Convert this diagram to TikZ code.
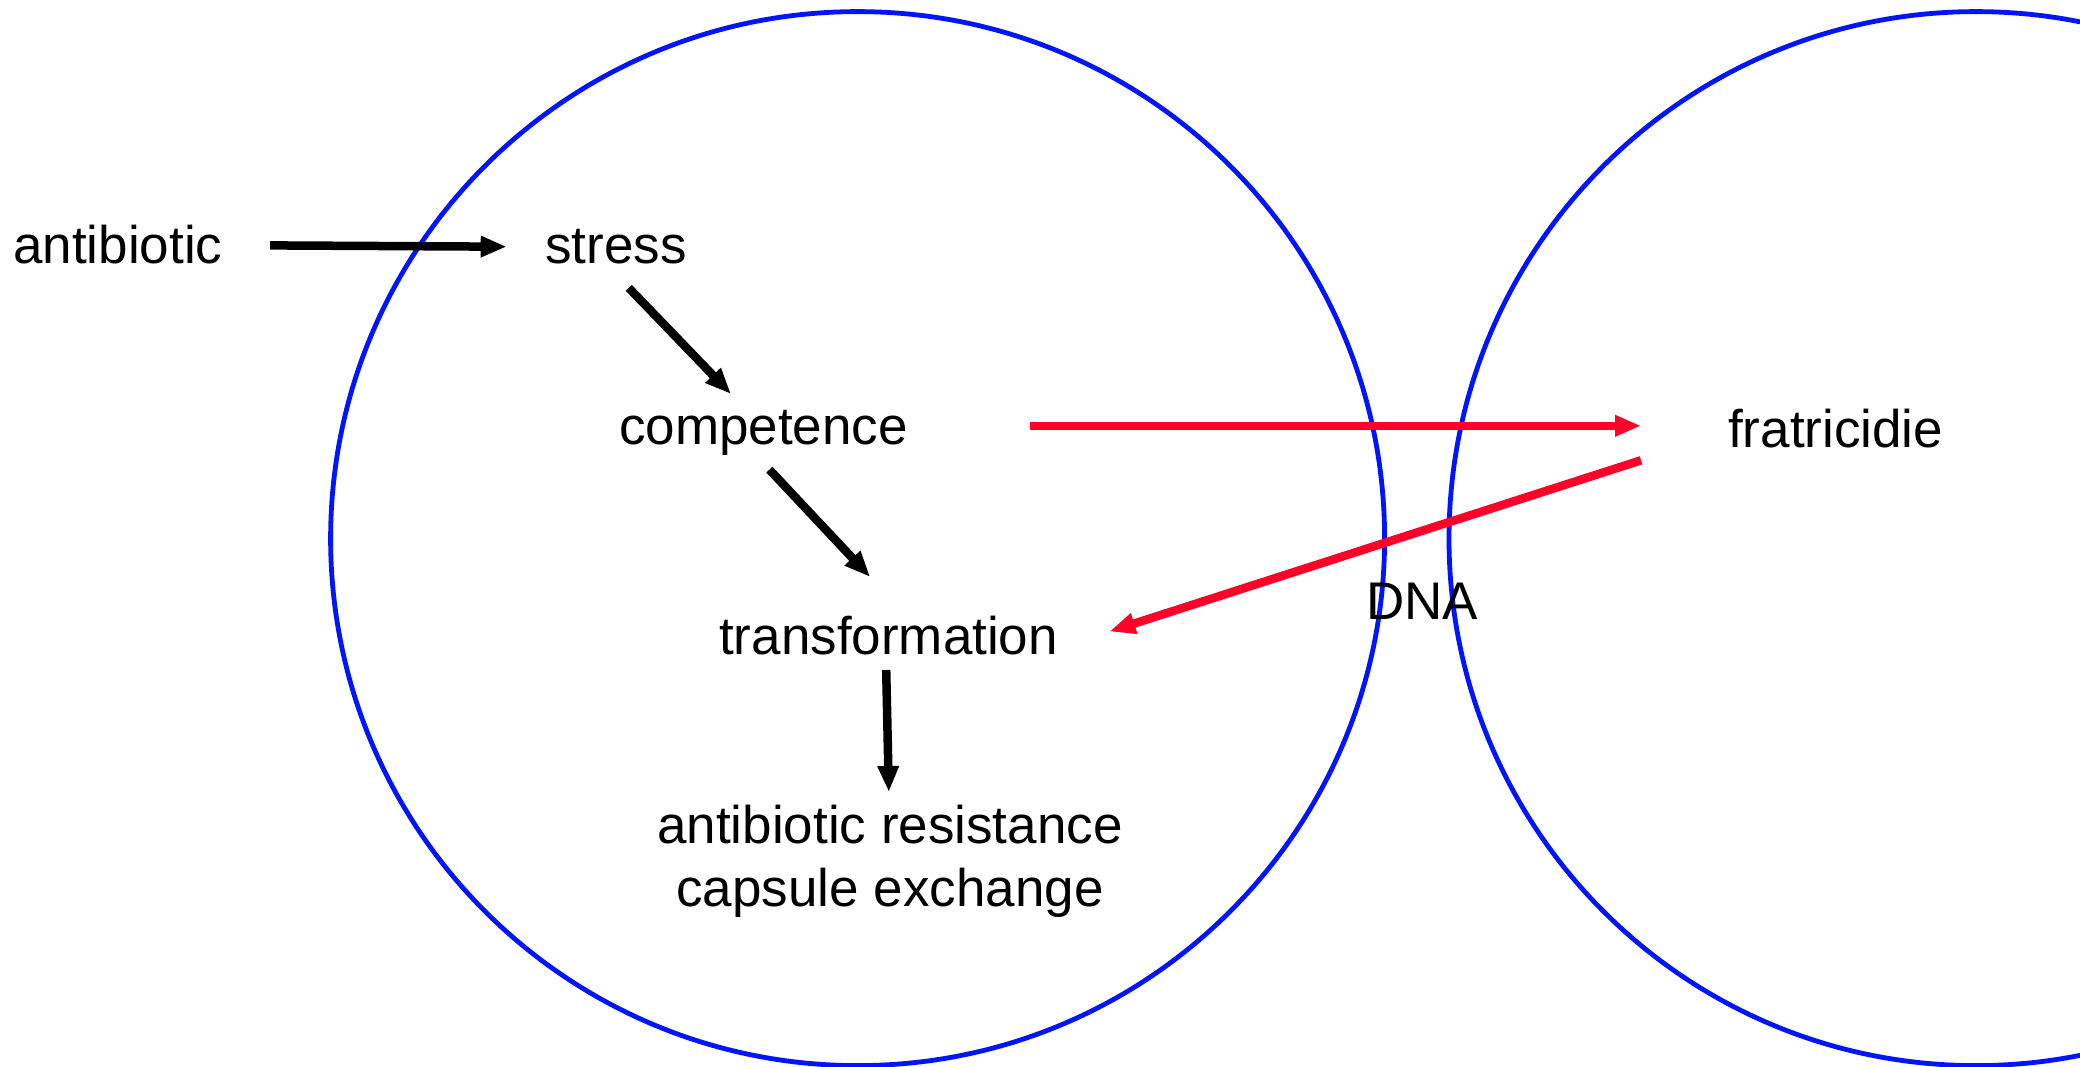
\documentclass[tikz,border=0pt]{standalone}
\usepackage{fontspec}
\setmainfont{Liberation Sans}
\usetikzlibrary{arrows.meta}
\definecolor{cellblue}{RGB}{0,20,255}
\definecolor{dnared}{RGB}{255,0,40}
\begin{document}
\begin{tikzpicture}[x=1pt,y=-1pt,
  lbl/.style={inner sep=0pt, font=\fontsize{53}{63}\selectfont},
  cell/.style={draw=cellblue, line width=4.8pt},
  arr/.style={draw=black, line width=8.5pt, -{Triangle[length=26pt,width=20pt]}},
  redarr/.style={draw=dnared, line width=8.5pt, -{Triangle[length=26pt,width=20pt]}}]
\useasboundingbox (0,0) rectangle (2080,1066);
\fill[white] (0,0) rectangle (2080,1066);
% cells
\draw[cell] (857.6,538.6) circle[radius=527pt];
\draw[cell] (1976,538.6) circle[radius=527pt];
% labels
\node[lbl, anchor=base west] (anti) at (13,263) {antibiotic};
\node[lbl, anchor=base west] (stress) at (545,263) {stress};
\node[lbl, anchor=base west] (comp) at (619,444) {competence};
\node[lbl, anchor=base west] (trans) at (719,654) {transformation};
\node[lbl, anchor=base, align=center] (res) at (890,906) {antibiotic resistance\\capsule exchange};
\node[lbl, anchor=base west] (frat) at (1728,447) {fratricidie};
\node[lbl, anchor=base west] (dna) at (1366,619) {DNA};
% connectors
\draw[arr] ([shift={(47.6,-17.6)}]anti.base east) -- ([shift={(-38.3,-16.3)}]stress.base west);
\draw[arr] ([shift={(83.8,24.9)}]stress.base west) -- ([shift={(112,-50)}]comp.base west);
\draw[arr] ([shift={(150.4,25.6)}]comp.base west) -- ([shift={(151.2,-77)}]trans.base west);
\draw[arr] ([shift={(167.2,16)}]trans.base west) -- ([shift={(-1.2,-114)}]res.base);
\draw[redarr] ([shift={(121.7,-18.2)}]comp.base east) -- ([shift={(-87,-21.2)}]frat.base west);
\draw[redarr] ([shift={(-87,13.3)}]frat.base west) -- ([shift={(51.3,-22.5)}]trans.base east);
\end{tikzpicture}
\end{document}
